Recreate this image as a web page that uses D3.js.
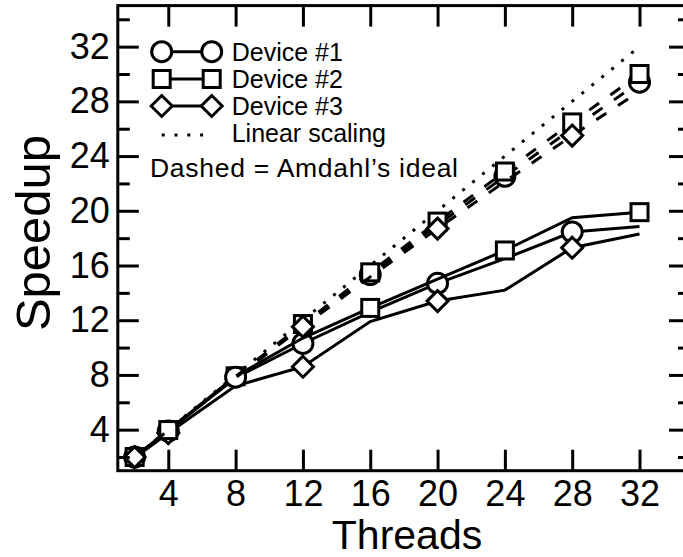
<!DOCTYPE html>
<html>
<head>
<meta charset="utf-8">
<script src="https://cdn.jsdelivr.net/npm/d3@7"></script>
<style>
  html, body { margin: 0; padding: 0; background: #fff; }
  svg { display: block; }
  text { font-family: "Liberation Sans", Arial, Helvetica, sans-serif; fill: #000; }
</style>
</head>
<body>
<svg id="chart" width="683" height="557"></svg>
<script>
// ---- data ----
const threads = [2, 4, 8, 12, 16, 20, 24, 28, 32];
const linearScaling = [2, 4, 8, 12, 16, 20, 24, 28, 32];

const dev1Measured = [2.0, 3.9, 7.8, 10.3, 12.6, 14.7, 16.5, 18.45, 18.85];
const dev2Measured = [2.0, 3.95, 7.9, 10.7, 12.9, 15.0, 17.1, 19.5, 19.9];
const dev3Measured = [1.95, 3.75, 7.2, 8.6, 11.9, 13.4, 14.2, 17.3, 18.3];

const dev1Amdahl = [1.99, 3.97, 7.84, 11.63, 15.34, 18.97, 22.52, 25.99, 29.4];
const dev2Amdahl = [2.0, 3.97, 7.88, 11.72, 15.5, 19.21, 22.87, 26.46, 30.0];
const dev3Amdahl = [1.99, 3.95, 7.8, 11.53, 15.17, 18.7, 22.13, 25.5, 28.73];

// thread counts at which a marker is drawn on each curve
const dev1MeasuredMarks = [2, 4, 12, 20, 28];
const dev1AmdahlMarks = [8, 16, 24, 32];
const dev2MeasuredMarks = [2, 8, 16, 24, 32];
const dev2AmdahlMarks = [4, 12, 16, 20, 24, 28, 32];
const dev3MeasuredMarks = [4, 12, 20, 28];
const dev3AmdahlMarks = [2, 12, 20, 28];

const xTicks = [4, 8, 12, 16, 20, 24, 28, 32];
const yTicks = [4, 8, 12, 16, 20, 24, 28, 32];
const yMinorTicks = [2, 6, 10, 14, 18, 22, 26, 30, 34];

const legendLabels = ["Device #1", "Device #2", "Device #3", "Linear scaling"];
const noteLabel = "Dashed = Amdahl\u2019s ideal";
const xTitle = "Threads";
const yTitle = "Speedup";

// ---- layout ----
const svg = d3.select("#chart");
const L = 117.8, R = 690, T = 5.6, B = 470.7;
const x = d3.scaleLinear().domain([1, 35]).range([L, R]);
const y = d3.scaleLinear().domain([1, 35]).range([B, T]);

const SW = 3;

// symbols
function drawMarker(g, shape, cx, cy) {
  if (shape === "circle") {
    g.append("circle").attr("cx", cx).attr("cy", cy).attr("r", 10)
      .attr("fill", "#fff").attr("stroke", "#000").attr("stroke-width", SW);
  } else if (shape === "square") {
    g.append("rect").attr("x", cx - 8.5).attr("y", cy - 8.5).attr("width", 17).attr("height", 17)
      .attr("fill", "#fff").attr("stroke", "#000").attr("stroke-width", SW);
  } else {
    const h = 10.5;
    g.append("path").attr("d", `M${cx},${cy - h}L${cx + h},${cy}L${cx},${cy + h}L${cx - h},${cy}Z`)
      .attr("fill", "#fff").attr("stroke", "#000").attr("stroke-width", SW)
      .attr("stroke-linejoin", "miter");
  }
}

const line = d3.line().x(d => x(d[0])).y(d => y(d[1]));
const plot = svg.append("g");

function drawSeries(values, marks, shape, dashed) {
  const pts = threads.map((t, i) => [t, values[i]]);
  const p = plot.append("path").datum(pts).attr("d", line)
    .attr("fill", "none").attr("stroke", "#000").attr("stroke-width", SW)
    .attr("stroke-linejoin", "miter");
  if (dashed) p.attr("stroke-dasharray", "12,14");
  const mg = plot.append("g");
  pts.filter(d => marks.includes(d[0])).forEach(d => drawMarker(mg, shape, x(d[0]), y(d[1])));
}

// linear scaling (dotted)
plot.append("path").datum(threads.map((t, i) => [t, linearScaling[i]])).attr("d", line)
  .attr("fill", "none").attr("stroke", "#000").attr("stroke-width", SW)
  .attr("stroke-dasharray", "3,9.8");

drawSeries(dev1Measured, dev1MeasuredMarks, "circle", false);
drawSeries(dev2Measured, dev2MeasuredMarks, "square", false);
drawSeries(dev3Measured, dev3MeasuredMarks, "diamond", false);
drawSeries(dev1Amdahl, dev1AmdahlMarks, "circle", true);
drawSeries(dev2Amdahl, dev2AmdahlMarks, "square", true);
drawSeries(dev3Amdahl, dev3AmdahlMarks, "diamond", true);

// ---- axes ----
function styleAxis(g) {
  g.select(".domain").remove();
  g.selectAll(".tick line").attr("stroke", "#000").attr("stroke-width", SW);
  g.selectAll(".tick text").style("font-size", "36px").attr("fill", "#000");
}
svg.append("g").attr("transform", `translate(0,${B})`)
  .call(d3.axisBottom(x).tickValues(xTicks).tickSizeInner(-21).tickSizeOuter(0).tickPadding(9.5).tickFormat(d3.format("d")))
  .call(styleAxis);
svg.append("g").attr("transform", `translate(0,${T})`)
  .call(d3.axisTop(x).tickValues(xTicks).tickSizeInner(-21).tickSizeOuter(0).tickFormat(""))
  .call(styleAxis);
svg.append("g").attr("transform", `translate(${L},0)`)
  .call(d3.axisLeft(y).tickValues(yTicks).tickSizeInner(-21).tickSizeOuter(0).tickPadding(8).tickFormat(d3.format("d")))
  .call(styleAxis);
svg.append("g").attr("transform", `translate(${L},0)`)
  .call(d3.axisLeft(y).tickValues(yMinorTicks).tickSizeInner(-12).tickSizeOuter(0).tickFormat(""))
  .call(styleAxis);
svg.append("g").attr("transform", `translate(${R},0)`)
  .call(d3.axisRight(y).tickValues(yTicks).tickSizeInner(-21).tickSizeOuter(0).tickFormat(""))
  .call(styleAxis);
svg.append("g").attr("transform", `translate(${R},0)`)
  .call(d3.axisRight(y).tickValues(yMinorTicks).tickSizeInner(-12).tickSizeOuter(0).tickFormat(""))
  .call(styleAxis);

// frame
svg.append("rect").attr("x", L).attr("y", T).attr("width", R - L).attr("height", B - T)
  .attr("fill", "none").attr("stroke", "#000").attr("stroke-width", SW);

// axis titles
svg.append("text").attr("x", 407).attr("y", 549).attr("text-anchor", "middle")
  .style("font-size", "41px").text(xTitle);
svg.append("text").attr("transform", "translate(50,233) rotate(-90)").attr("text-anchor", "middle")
  .style("font-size", "49px").text(yTitle);

// ---- legend ----
const lg = svg.append("g");
const shapes = ["circle", "square", "diamond"];
const rowsY = [51.7, 79, 106, 133];
shapes.forEach((s, i) => {
  lg.append("line").attr("x1", 161.7).attr("x2", 211.7).attr("y1", rowsY[i]).attr("y2", rowsY[i])
    .attr("stroke", "#000").attr("stroke-width", SW);
  drawMarker(lg, s, 161.7, rowsY[i]);
  drawMarker(lg, s, 211.7, rowsY[i]);
});
lg.append("line").attr("x1", 161.7).attr("x2", 206).attr("y1", 135).attr("y2", 135)
  .attr("stroke", "#000").attr("stroke-width", SW).attr("stroke-dasharray", "3,9.8");
legendLabels.forEach((t, i) => {
  lg.append("text").attr("x", 231.7).attr("y", rowsY[i] + 9).style("font-size", "25px").text(t);
});
lg.append("text").attr("x", 150).attr("y", 177).style("font-size", "26.5px")
  .attr("textLength", 308).attr("lengthAdjust", "spacing").text(noteLabel);
</script>
</body>
</html>
